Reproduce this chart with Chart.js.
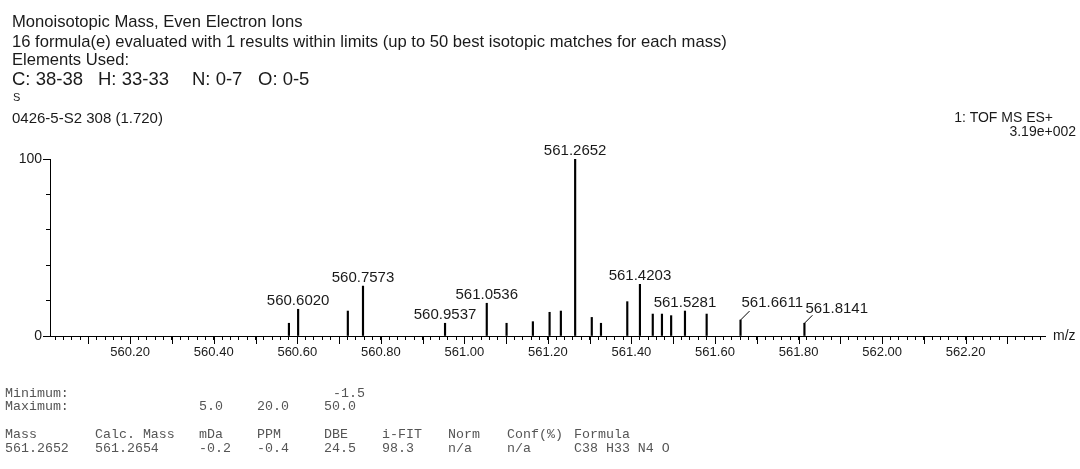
<!DOCTYPE html>
<html>
<head>
<meta charset="utf-8">
<script src="https://cdn.jsdelivr.net/npm/chart.js@4.4.1/dist/chart.umd.min.js"></script>
<style>
  html, body { margin: 0; padding: 0; background: #fff; }
  #wrap { position: relative; width: 1080px; height: 469px; overflow: hidden;
          font-family: "Liberation Sans", Arial, sans-serif; color: #1a1a1a; }
  #chart { position: absolute; left: 0; top: 0; }
  .t { position: absolute; white-space: pre; line-height: 1; }
  .r { text-align: right; }
  .m { font-family: "Liberation Mono", monospace; font-size: 13.3px; color: #555; }
</style>
</head>
<body>
<div id="wrap">
  <canvas id="chart" width="1080" height="469"></canvas>

  <div class="t" style="left:12px; top:14px; font-size:16.6px;">Monoisotopic Mass, Even Electron Ions</div>
  <div class="t" style="left:12px; top:34px; font-size:16.6px;">16 formula(e) evaluated with 1 results within limits (up to 50 best isotopic matches for each mass)</div>
  <div class="t" style="left:12px; top:52px; font-size:16.6px;">Elements Used:</div>
  <div class="t" style="left:12px; top:70px; font-size:18.5px;">C: 38-38</div>
  <div class="t" style="left:98px; top:70px; font-size:18.5px;">H: 33-33</div>
  <div class="t" style="left:192px; top:70px; font-size:18.5px;">N: 0-7</div>
  <div class="t" style="left:258px; top:70px; font-size:18.5px;">O: 0-5</div>
  <div class="t" style="left:13px; top:92px; font-size:11px;">S</div>
  <div class="t" style="left:12px; top:110px; font-size:15px;">0426-5-S2 308 (1.720)</div>
  <div class="t r" style="right:27px; top:110px; font-size:14px;">1: TOF MS ES+</div>
  <div class="t r" style="right:4px; top:124px; font-size:14px;">3.19e+002</div>

  <div class="t m" style="left:5px; top:387px;">Minimum:</div>
  <div class="t m" style="left:5px; top:400px;">Maximum:</div>
  <div class="t m" style="left:333px; top:387px;">-1.5</div>
  <div class="t m" style="left:199px; top:400px;">5.0</div>
  <div class="t m" style="left:257px; top:400px;">20.0</div>
  <div class="t m" style="left:324px; top:400px;">50.0</div>

  <div class="t m" style="left:5px; top:428px;">Mass</div>
  <div class="t m" style="left:95px; top:428px;">Calc. Mass</div>
  <div class="t m" style="left:199px; top:428px;">mDa</div>
  <div class="t m" style="left:257px; top:428px;">PPM</div>
  <div class="t m" style="left:324px; top:428px;">DBE</div>
  <div class="t m" style="left:382px; top:428px;">i-FIT</div>
  <div class="t m" style="left:448px; top:428px;">Norm</div>
  <div class="t m" style="left:507px; top:428px;">Conf(%)</div>
  <div class="t m" style="left:574px; top:428px;">Formula</div>

  <div class="t m" style="left:5px; top:442px;">561.2652</div>
  <div class="t m" style="left:95px; top:442px;">561.2654</div>
  <div class="t m" style="left:199px; top:442px;">-0.2</div>
  <div class="t m" style="left:257px; top:442px;">-0.4</div>
  <div class="t m" style="left:324px; top:442px;">24.5</div>
  <div class="t m" style="left:382px; top:442px;">98.3</div>
  <div class="t m" style="left:448px; top:442px;">n/a</div>
  <div class="t m" style="left:507px; top:442px;">n/a</div>
  <div class="t m" style="left:574px; top:442px;">C38 H33 N4 O</div>
</div>

<script>
// centroid peaks (m/z, % of base peak)
const peakMz = [560.580, 560.6020, 560.721, 560.7573, 560.9537, 561.0536, 561.101, 561.164,
                561.204, 561.231, 561.2652, 561.305, 561.327, 561.390, 561.4203, 561.451,
                561.473, 561.495, 561.5281, 561.580, 561.6611, 561.8141];
const peakPct = [7.2, 15.1, 14.1, 28.2, 7.2, 18.5, 7.2, 8.1,
                 13.4, 14.1, 100, 10.5, 7.2, 19.4, 29.2, 12.4,
                 12.4, 11.5, 14.1, 12.4, 9.0, 7.2];
const peakLabels = ['', '560.6020', '', '560.7573', '560.9537', '561.0536', '', '',
                    '', '', '561.2652', '', '', '', '561.4203', '',
                    '', '', '561.5281', '', '561.6611', '561.8141'];

const mzMin = 560.008, mzMax = 562.39;

// labels that sit on a leader line instead of straight above the peak
const leaders = {
  20: { dx: 9, dy: -9, tx: 1, ty: -17 },
  21: { dx: 8, dy: -8, tx: 1, ty: -14 }
};

const isMultiple = (v, step) => Math.abs(v / step - Math.round(v / step)) < 1e-6;

const spectrumDecor = {
  id: 'spectrumDecor',
  afterDraw(chart) {
    const { ctx, chartArea } = chart;
    const x = chart.scales.x, y = chart.scales.y;
    ctx.save();
    ctx.strokeStyle = '#000';
    ctx.lineWidth = 1;
    // longer ticks every 0.1 on x and at 0 / 50 / 100 on y
    x.ticks.forEach(t => {
      if (!isMultiple(t.value, 0.1)) return;
      const px = Math.round(x.getPixelForValue(t.value)) + 0.5;
      ctx.beginPath();
      ctx.moveTo(px, chartArea.bottom);
      ctx.lineTo(px, chartArea.bottom + 8);
      ctx.stroke();
    });
    y.ticks.forEach(t => {
      if (t.value % 50 !== 0) return;
      const py = Math.round(y.getPixelForValue(t.value)) + 0.5;
      ctx.beginPath();
      ctx.moveTo(chartArea.left, py);
      ctx.lineTo(chartArea.left - 7, py);
      ctx.stroke();
    });

    ctx.fillStyle = '#1a1a1a';
    ctx.font = '15px "Liberation Sans", Arial, sans-serif';
    ctx.textBaseline = 'middle';
    peakLabels.forEach((lab, i) => {
      if (!lab) return;
      const px = x.getPixelForValue(peakMz[i]);
      const py = y.getPixelForValue(peakPct[i]);
      const ld = leaders[i];
      if (ld) {
        ctx.beginPath();
        ctx.moveTo(px, py);
        ctx.lineTo(px + ld.dx, py + ld.dy);
        ctx.stroke();
        ctx.textAlign = 'left';
        ctx.fillText(lab, px + ld.tx, py + ld.ty);
      } else {
        ctx.textAlign = 'center';
        ctx.fillText(lab, px, py - 8);
      }
    });

    ctx.font = '14px "Liberation Sans", Arial, sans-serif';
    ctx.textAlign = 'left';
    ctx.fillText('m/z', chartArea.right + 8, chartArea.bottom);
    ctx.restore();
  }
};

new Chart(document.getElementById('chart'), {
  type: 'bar',
  data: {
    datasets: [{
      data: peakMz.map((m, i) => ({ x: m, y: peakPct[i] })),
      backgroundColor: '#000',
      borderWidth: 0,
      barThickness: 1.5
    }]
  },
  options: {
    responsive: false,
    animation: false,
    devicePixelRatio: 1,
    layout: { padding: { left: 0, right: 35, top: 159, bottom: 0 } },
    plugins: { legend: { display: false }, tooltip: { enabled: false } },
    scales: {
      x: {
        type: 'linear',
        min: mzMin,
        max: mzMax,
        offset: false,
        afterFit: s => { s.height = 133; },
        border: { display: true, color: '#000', width: 1 },
        grid: { display: true, offset: false, drawOnChartArea: false, drawTicks: true,
                tickLength: 4, color: '#000', tickColor: '#000' },
        ticks: {
          stepSize: 0.02,
          includeBounds: false,
          autoSkip: false,
          maxRotation: 0,
          padding: 5,
          color: '#1a1a1a',
          font: { family: '"Liberation Sans", Arial, sans-serif', size: 13 },
          callback: v => isMultiple(v, 0.2) ? v.toFixed(2) : ''
        }
      },
      y: {
        min: 0,
        max: 100,
        afterFit: s => { s.width = 50; },
        border: { display: true, color: '#000', width: 1 },
        grid: { display: true, drawOnChartArea: false, drawTicks: true,
                tickLength: 4, color: '#000', tickColor: '#000' },
        ticks: {
          stepSize: 10,
          padding: 4,
          color: '#1a1a1a',
          font: { family: '"Liberation Sans", Arial, sans-serif', size: 14 },
          callback: v => v === 100 ? '100' : v === 50 ? '%' : v === 0 ? '0' : ''
        }
      }
    }
  },
  plugins: [spectrumDecor]
});
</script>
</body>
</html>
